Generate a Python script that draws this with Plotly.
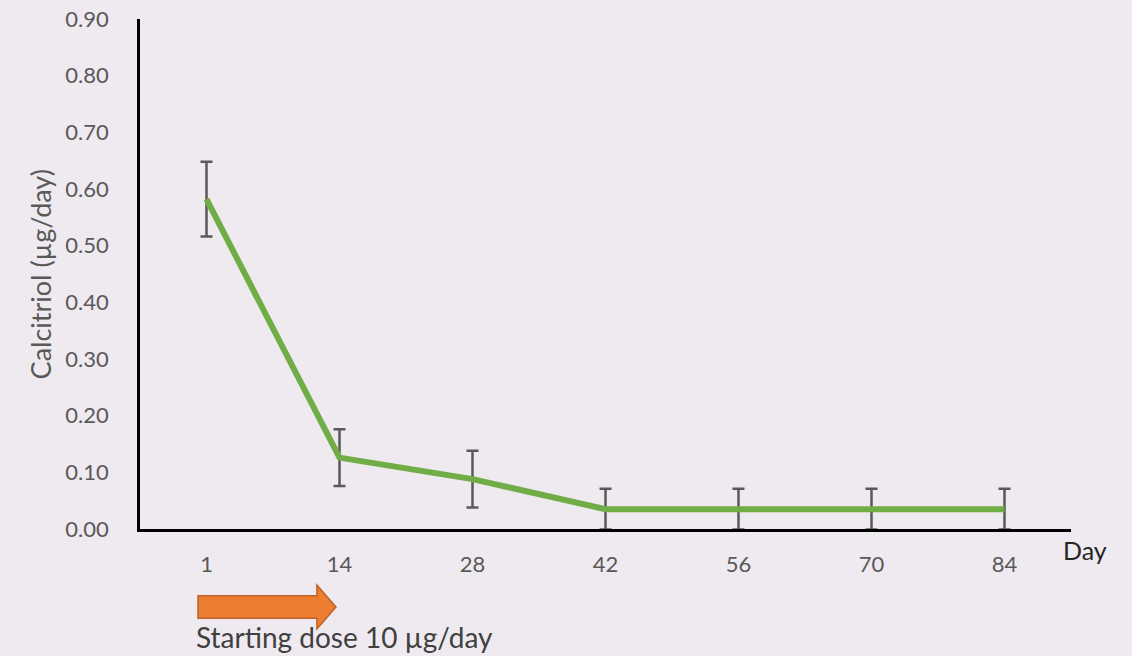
import plotly.graph_objects as go

days = ["1", "14", "28", "42", "56", "70", "84"]
calcitriol = [0.582, 0.126, 0.088, 0.035, 0.035, 0.035, 0.035]
err = [0.066, 0.05, 0.05, 0.036, 0.036, 0.036, 0.036]
y_ticks = [0.0, 0.1, 0.2, 0.3, 0.4, 0.5, 0.6, 0.7, 0.8, 0.9]

FONT = "Lato"

fig = go.Figure()
fig.add_trace(go.Scatter(
    x=days, y=calcitriol, mode="lines",
    line=dict(color="#70AD47", width=6),
    error_y=dict(type="data", array=err, visible=True, color="#595959", thickness=2.5, width=6),
    showlegend=False,
))

fig.update_layout(
    width=1132, height=656,
    margin=dict(l=140, r=61, t=19, b=127, autoexpand=False),
    paper_bgcolor="#eeeaef", plot_bgcolor="rgba(0,0,0,0)",
    font=dict(family=FONT, color="#595959", size=22),
    xaxis=dict(type="category", range=[-0.5, 6.5], showgrid=False, zeroline=False,
               showline=True, linecolor="#000000", linewidth=2.5, automargin=False,
               ticks="", ticklabelstandoff=14, tickfont=dict(size=22, color="#595959")),
    yaxis=dict(range=[0, 0.9], tickvals=y_ticks, tickformat=".2f", showgrid=False,
               zeroline=False, showline=True, linecolor="#000000", linewidth=2.5, automargin=False,
               ticks="", ticklabelstandoff=24, tickfont=dict(size=22, color="#595959")),
)

fig.add_annotation(text="Calcitriol (µg/day)", xref="paper", yref="paper", x=-0.107, y=0.5,
                   xanchor="center", yanchor="middle",
                   textangle=-90, showarrow=False, font=dict(size=27, color="#595959"))
fig.add_annotation(text="Day", xref="paper", yref="paper", x=1.0155, y=-0.041,
                   xanchor="center", yanchor="middle",
                   showarrow=False, font=dict(size=25, color="#262626"))
fig.add_annotation(text="Starting dose 10 µg/day", xref="paper", yref="paper", x=0.058, y=-0.211,
                   xanchor="left", yanchor="middle",
                   showarrow=False, font=dict(size=28, color="#404040"))

# orange arrow
x0, x1, x2 = 0.0623, 0.190, 0.2105
yb1, yb2, yh1, yh2, ym = -0.131, -0.175, -0.110, -0.196, -0.153
path = (f"M {x0},{yb1} L {x1},{yb1} L {x1},{yh1} L {x2},{ym} L {x1},{yh2} "
        f"L {x1},{yb2} L {x0},{yb2} Z")
fig.add_shape(type="path", path=path, xref="paper", yref="paper",
              fillcolor="#ED7D31", line=dict(color="#C0622A", width=1.5))

fig.write_html("out.html", config={"displayModeBar": False},
               post_script="document.body.style.margin='0';")
